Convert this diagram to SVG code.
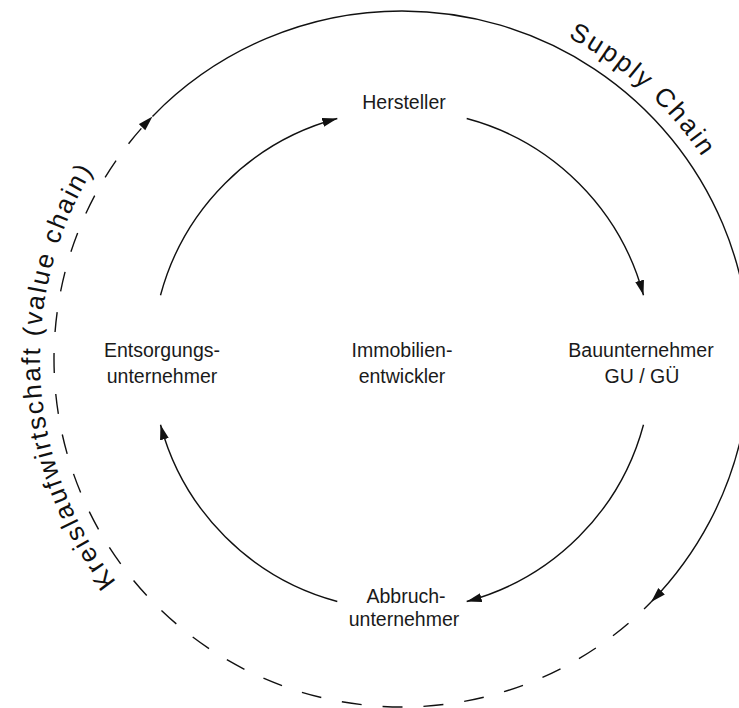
<svg xmlns="http://www.w3.org/2000/svg" width="739" height="708" viewBox="0 0 739 708">
  <style>
    .bg { fill: #ffffff; }
    .conn { fill: none; stroke: #111111; stroke-width: 1.4; }
    .dash { stroke-dasharray: 20 21; }
    .lbl { font-family: "Liberation Sans", Arial, sans-serif; font-size: 19.5px; fill: #1a1a1a; text-anchor: middle; }
    .arc-lbl { font-family: "Liberation Sans", Arial, sans-serif; font-size: 26px; fill: #111111; text-anchor: middle; }
  </style>
  <defs>
    <marker id="arrow" markerUnits="userSpaceOnUse" markerWidth="16" markerHeight="10" refX="15" refY="4.5" orient="auto">
      <path d="M0,0 L15,4.5 L0,9 z" fill="#111111"/>
    </marker>
    <path id="supplyPath" d="M402,721 A362,362 0 1 1 402,-3 A362,362 0 1 1 402,721" fill="none"/>
    <path id="kreisPath" d="M403,722 A363,363 0 1 1 403,-4 A363,363 0 1 1 403,722" fill="none"/>
  </defs>
  <rect class="bg" x="0" y="0" width="739" height="708"/>

  <g id="connectors">
    <!-- outer supply chain (solid) -->
    <path class="conn" d="M152.5,116.4 A348,348 0 0 1 402,11 A348,348 0 0 1 651.1,602.0" marker-end="url(#arrow)"/>
    <!-- outer circular economy (dashed) -->
    <path class="conn dash" stroke-dashoffset="10" d="M651.1,602.0 A348,348 0 0 1 402,707 A348,348 0 0 1 152.5,116.4" marker-end="url(#arrow)"/>
    <!-- inner cycle -->
    <path class="conn" d="M160.5,295.3 A250,250 0 0 1 337.3,118.5" marker-end="url(#arrow)"/>
    <path class="conn" d="M466.7,118.5 A250,250 0 0 1 643.5,295.3" marker-end="url(#arrow)"/>
    <path class="conn" d="M643.5,424.7 A250,250 0 0 1 466.7,601.5" marker-end="url(#arrow)"/>
    <path class="conn" d="M337.3,601.5 A250,250 0 0 1 160.5,424.7" marker-end="url(#arrow)"/>
  </g>

  <g id="label-supply-chain">
    <text class="arc-lbl" letter-spacing="2.4"><textPath href="#supplyPath" startOffset="1401">Supply Chain</textPath></text>
  </g>
  <g id="label-kreislauf">
    <text class="arc-lbl" letter-spacing="2.2"><textPath href="#kreisPath" startOffset="550">Kreislaufwirtschaft (value chain)</textPath></text>
  </g>

  <g id="node-hersteller">
    <text class="lbl" x="404" y="109">Hersteller</text>
  </g>
  <g id="node-entsorgung">
    <text class="lbl" x="162" y="357">Entsorgungs-</text>
    <text class="lbl" x="162" y="383">unternehmer</text>
  </g>
  <g id="node-immobilien">
    <text class="lbl" x="402" y="357">Immobilien-</text>
    <text class="lbl" x="402" y="383">entwickler</text>
  </g>
  <g id="node-bau">
    <text class="lbl" x="641" y="357">Bauunternehmer</text>
    <text class="lbl" x="642" y="383">GU / GÜ</text>
  </g>
  <g id="node-abbruch">
    <text class="lbl" x="406" y="603">Abbruch-</text>
    <text class="lbl" x="404" y="626">unternehmer</text>
  </g>
</svg>
